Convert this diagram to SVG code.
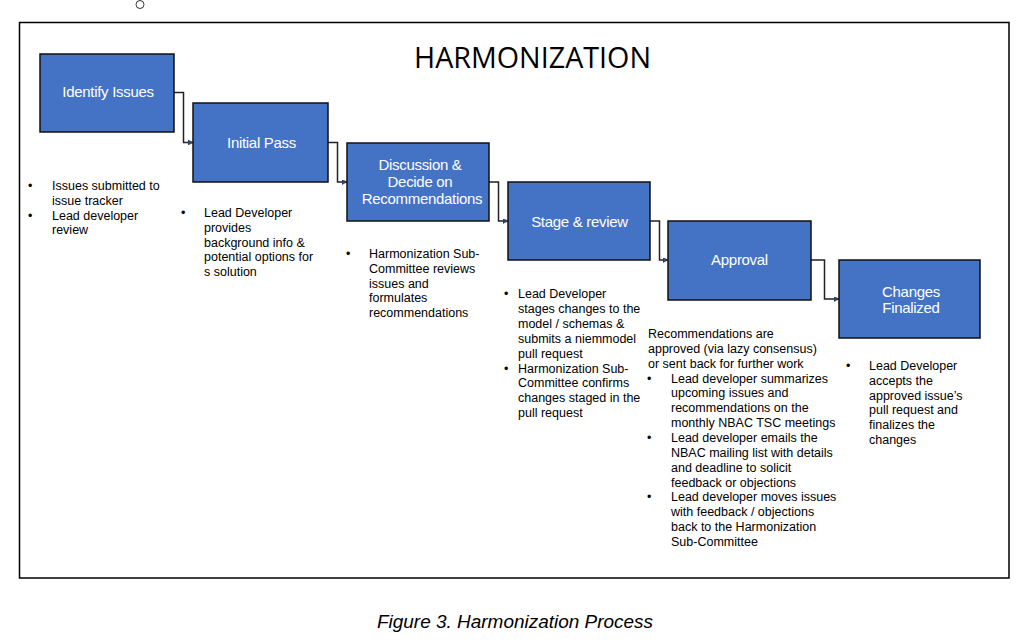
<svg xmlns="http://www.w3.org/2000/svg" width="1035" height="643" viewBox="0 0 1035 643">
<style>
.box{fill:#4472C4;stroke:#111;stroke-width:1.5}
.lbl{font-family:"Liberation Sans",Arial,sans-serif;font-size:15px;fill:#fff;text-anchor:middle;letter-spacing:-0.3px}
.body{font-family:"Liberation Sans",Arial,sans-serif;font-size:12.5px;fill:#000}
.conn{fill:none;stroke:#222;stroke-width:1.5}
</style>
<defs>
<marker id="arr" viewBox="0 0 10 10" refX="10" refY="5" markerWidth="5" markerHeight="5" orient="auto" markerUnits="userSpaceOnUse">
<path d="M0,0 L10,5 L0,10 Z" fill="#2F4A7A" stroke="#222" stroke-width="1"/>
</marker>
</defs>
<rect width="1035" height="643" fill="#fff"/>
<circle cx="140" cy="4.5" r="4" fill="none" stroke="#333" stroke-width="1"/>
<rect x="19.5" y="22.5" width="989.5" height="555.5" fill="none" stroke="#000" stroke-width="1.5"/>
<text x="532.5" y="68" font-family="'Open Sans','Liberation Sans',sans-serif" font-size="29" fill="#000" text-anchor="middle" textLength="237" lengthAdjust="spacingAndGlyphs">HARMONIZATION</text>

<g id="connectors">
<polyline class="conn" points="174,92.5 183.5,92.5 183.5,142.5 193,142.5" marker-end="url(#arr)"/>
<polyline class="conn" points="328,142.5 337.5,142.5 337.5,182 347,182" marker-end="url(#arr)"/>
<polyline class="conn" points="489,182 498.5,182 498.5,221 508,221" marker-end="url(#arr)"/>
<polyline class="conn" points="650,221 659.5,221 659.5,260 668,260" marker-end="url(#arr)"/>
<polyline class="conn" points="811,260 824.5,260 824.5,299 839,299" marker-end="url(#arr)"/>
</g>

<g id="identify">
<rect class="box" x="40" y="54" width="134" height="78"/>
<text class="lbl" x="108" y="97">Identify Issues</text>
</g>
<g id="initial">
<rect class="box" x="193" y="103" width="135" height="79"/>
<text class="lbl" x="261.5" y="148">Initial Pass</text>
</g>
<g id="discussion">
<rect class="box" x="347" y="143" width="142" height="78"/>
<text class="lbl" x="420" y="170">Discussion &amp;</text>
<text class="lbl" x="420" y="187">Decide on</text>
<text class="lbl" x="422" y="204">Recommendations</text>
</g>
<g id="stage">
<rect class="box" x="508" y="182" width="142" height="78"/>
<text class="lbl" x="579.5" y="227">Stage &amp; review</text>
</g>
<g id="approval">
<rect class="box" x="668" y="221" width="143" height="79"/>
<text class="lbl" x="739.5" y="265">Approval</text>
</g>
<g id="finalized">
<rect class="box" x="839" y="260" width="141" height="78"/>
<text class="lbl" x="911" y="297">Changes</text>
<text class="lbl" x="911" y="313">Finalized</text>
</g>

<g id="notes-identify" class="body">
<text x="28" y="190">•</text><text x="52" y="190">Issues submitted to</text>
<text x="52" y="204.8">issue tracker</text>
<text x="28" y="219.6">•</text><text x="52" y="219.6">Lead developer</text>
<text x="52" y="234.4">review</text>
</g>
<g id="notes-initial" class="body">
<text x="181" y="217">•</text><text x="204" y="217">Lead Developer</text>
<text x="204" y="231.8">provides</text>
<text x="204" y="246.6">background info &amp;</text>
<text x="204" y="261.4">potential options for</text>
<text x="204" y="276.2">s solution</text>
</g>
<g id="notes-discussion" class="body">
<text x="346" y="258">•</text><text x="369" y="258">Harmonization Sub-</text>
<text x="369" y="272.8">Committee reviews</text>
<text x="369" y="287.6">issues and</text>
<text x="369" y="302.4">formulates</text>
<text x="369" y="317.2">recommendations</text>
</g>
<g id="notes-stage" class="body">
<text x="504" y="298">•</text><text x="518" y="298">Lead Developer</text>
<text x="518" y="312.9">stages changes to the</text>
<text x="518" y="327.8">model / schemas &amp;</text>
<text x="518" y="342.7">submits a niemmodel</text>
<text x="518" y="357.6">pull request</text>
<text x="504" y="372.5">•</text><text x="518" y="372.5">Harmonization Sub-</text>
<text x="518" y="387.4">Committee confirms</text>
<text x="518" y="402.3">changes staged in the</text>
<text x="518" y="417.2">pull request</text>
</g>
<g id="notes-approval" class="body">
<text x="648" y="338">Recommendations are</text>
<text x="648" y="352.85">approved (via lazy consensus)</text>
<text x="648" y="367.7">or sent back for further work</text>
<text x="647" y="382.55">•</text><text x="671" y="382.55">Lead developer summarizes</text>
<text x="671" y="397.4">upcoming issues and</text>
<text x="671" y="412.25">recommendations on the</text>
<text x="671" y="427.1">monthly NBAC TSC meetings</text>
<text x="647" y="441.95">•</text><text x="671" y="441.95">Lead developer emails the</text>
<text x="671" y="456.8">NBAC mailing list with details</text>
<text x="671" y="471.65">and deadline to solicit</text>
<text x="671" y="486.5">feedback or objections</text>
<text x="647" y="501.35">•</text><text x="671" y="501.35">Lead developer moves issues</text>
<text x="671" y="516.2">with feedback / objections</text>
<text x="671" y="531.05">back to the Harmonization</text>
<text x="671" y="545.9">Sub-Committee</text>
</g>
<g id="notes-finalized" class="body">
<text x="846" y="370">•</text><text x="869" y="370">Lead Developer</text>
<text x="869" y="384.8">accepts the</text>
<text x="869" y="399.6">approved issue’s</text>
<text x="869" y="414.4">pull request and</text>
<text x="869" y="429.2">finalizes the</text>
<text x="869" y="444">changes</text>
</g>

<text x="515" y="628" font-family="'Liberation Sans',Arial,sans-serif" font-size="17.5" font-style="italic" fill="#000" text-anchor="middle" textLength="276" lengthAdjust="spacingAndGlyphs">Figure 3. Harmonization Process</text>
</svg>
